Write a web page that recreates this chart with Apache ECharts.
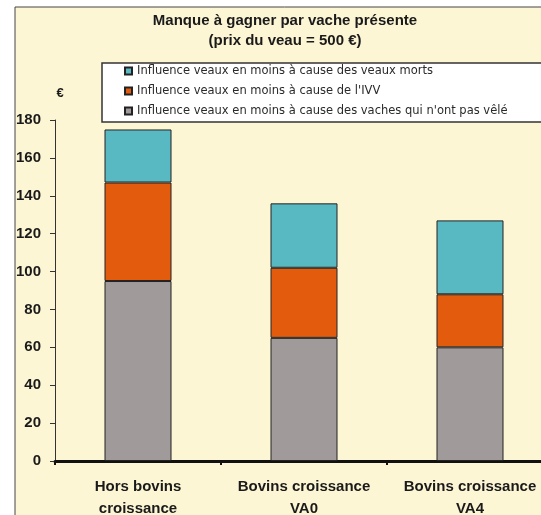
<!DOCTYPE html>
<html>
<head>
<meta charset="utf-8">
<script src="https://cdn.jsdelivr.net/npm/echarts@6/dist/echarts.min.js"></script>
<style>
  html, body { margin: 0; padding: 0; background: #fff; overflow: hidden; }
  /* the plot runs past the right edge of the window, as in the original */
  #chart { width: 553px; height: 515px; }
</style>
</head>
<body>
<div id="chart"></div>
<script>
// categories and stacked values (€ per cow)
const categories = ['Hors bovins\ncroissance', 'Bovins croissance\nVA0', 'Bovins croissance\nVA4'];
const vachesNonVele = [95, 65, 60];
const ivv = [52, 37, 28];
const veauxMorts = [28, 34, 39];
const yTicks = [0, 180, 20]; // min, max, interval

const nameMorts = 'Influence veaux en moins à cause des veaux morts';
const nameIvv = "Influence veaux en moins à cause de l'IVV";
const nameVaches = "Influence veaux en moins à cause des vaches qui n'ont pas vêlé";

const chart = echarts.init(document.getElementById('chart'));
const font = "'Liberation Sans', Arial, sans-serif";

const option = {
  backgroundColor: '#fff',
  animation: false,
  graphic: [
    { type: 'rect', z: -10, shape: { x: 15, y: 7, width: 600, height: 600 },
      style: { fill: '#fdf6d5', stroke: '#444', lineWidth: 1 } },
    { type: 'rect', z: 1, shape: { x: 102, y: 63, width: 500, height: 59 },
      style: { fill: '#fff', stroke: '#333', lineWidth: 1.5 } }
  ],
  title: {
    text: 'Manque à gagner par vache présente\n(prix du veau = 500 €)',
    left: 285, top: 11, textAlign: 'center', padding: 0,
    textStyle: { fontFamily: font, fontSize: 15, fontWeight: 'bold', color: '#1a1a1a', lineHeight: 20 }
  },
  legend: {
    data: [nameMorts, nameIvv, nameVaches],
    orient: 'vertical', left: 124, top: 65, padding: 0,
    itemWidth: 7, itemHeight: 7, itemGap: 8, icon: 'rect',
    z: 5,
    textStyle: { fontFamily: "'DejaVu Sans', sans-serif", fontSize: 11.5, color: '#2a2a2a', lineHeight: 12 }
  },
  grid: { left: 55, right: 0, top: 120, bottom: 54, outerBoundsMode: 'none' },
  xAxis: {
    type: 'category',
    data: categories,
    axisLine: { lineStyle: { color: '#111', width: 3 } },
    axisTick: { show: true, length: 4, lineStyle: { color: '#111', width: 2 } },
    axisLabel: { interval: 0, margin: 15, fontFamily: font, fontSize: 15, fontWeight: 'bold', color: '#1a1a1a', lineHeight: 22 }
  },
  yAxis: {
    type: 'value',
    min: yTicks[0], max: yTicks[1], interval: yTicks[2],
    name: '€', nameLocation: 'end', nameGap: 20,
    nameTextStyle: { fontFamily: font, fontSize: 13, fontWeight: 'bold', color: '#1a1a1a', padding: [0, 0, 0, 10] },
    axisLine: { show: true, lineStyle: { color: '#333', width: 1 } },
    axisTick: { show: true, length: 5, lineStyle: { color: '#333' } },
    splitLine: { show: false },
    axisLabel: { margin: 14, fontFamily: font, fontSize: 15, fontWeight: 'bold', color: '#1a1a1a' }
  },
  series: [
    { name: nameVaches, type: 'bar', stack: 'total', barWidth: 67, data: vachesNonVele,
      itemStyle: { color: '#a09b9a', borderColor: '#222', borderWidth: 1 } },
    { name: nameIvv, type: 'bar', stack: 'total', data: ivv,
      itemStyle: { color: '#e35c0e', borderColor: '#222', borderWidth: 1 } },
    { name: nameMorts, type: 'bar', stack: 'total', data: veauxMorts,
      itemStyle: { color: '#58b9c3', borderColor: '#222', borderWidth: 1 } }
  ]
};

chart.setOption(option);
window.addEventListener('resize', function () { chart.resize(); });
</script>
</body>
</html>
